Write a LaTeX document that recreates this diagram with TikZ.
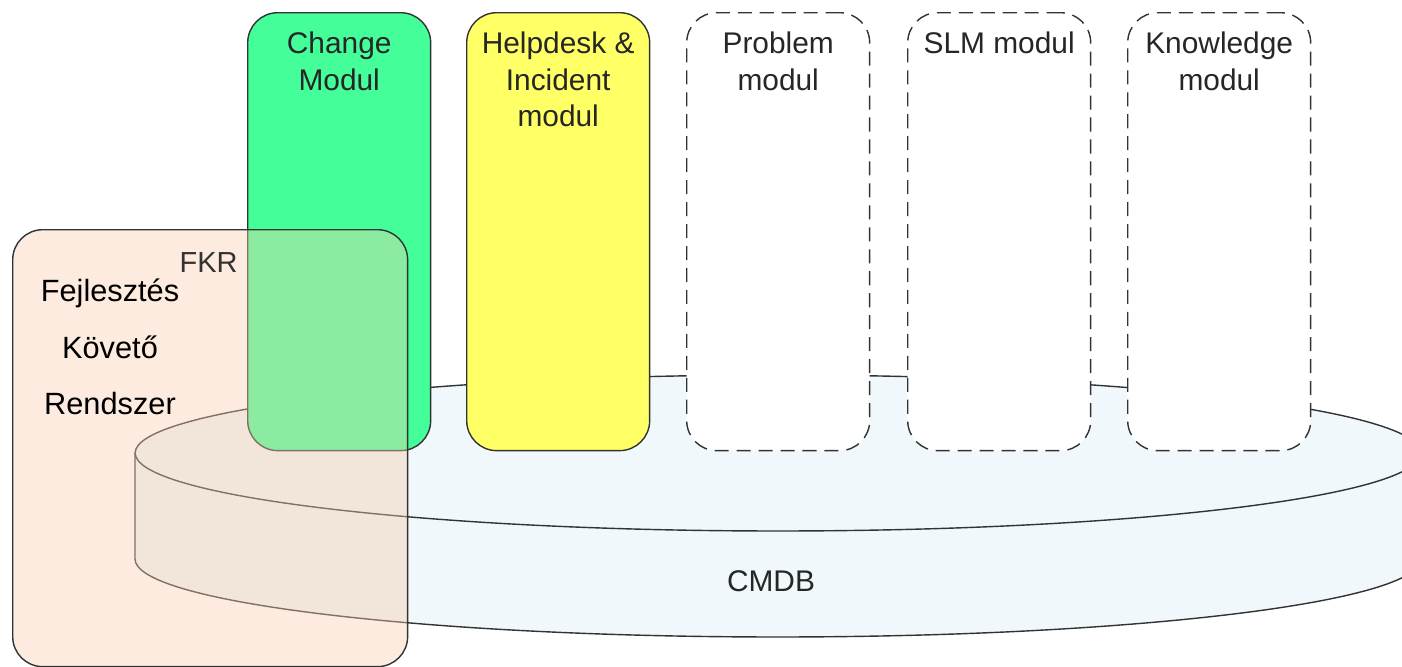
\documentclass[tikz,border=0pt]{standalone}
\usepackage{fontspec}
\setmainfont{Liberation Sans}
\usepackage{xcolor}
\usetikzlibrary{positioning}
\definecolor{changegreen}{HTML}{44FF99}
\definecolor{helpyellow}{HTML}{FFFF66}
\definecolor{cmdbblue}{HTML}{F0F8FB}
\definecolor{fkrpeach}{RGB}{247,205,172}
\definecolor{edge}{HTML}{333333}

\begin{document}
\begin{tikzpicture}[x = 0.02cm, y = -0.02cm,
modul/.style={draw = edge, line width = 0.8pt, rounded corners = 0.6cm, anchor = north west, inner sep = 0pt, minimum width = 3.66cm, minimum height = 8.76cm},
ghost/.style={modul, fill = white, dash pattern = on 8pt off 4.5pt},
txt/.style={align = center, inner sep = 0pt, text = black!85, font = \fontsize{17}{20.5}\selectfont},
lbl/.style={txt, anchor = north, yshift = -0.4cm}]
\useasboundingbox (0,0) rectangle (1402,666);
% CMDB cylinder
\filldraw[fill = cmdbblue, draw = edge, line width = 0.8pt] (135,453) -- (135,559) arc[start angle = 180, end angle = 360, x radius = 12.86cm, y radius = 1.56cm] -- (1421,453) -- cycle;
\filldraw[fill = cmdbblue, draw = edge, line width = 0.8pt] (778,453) ellipse [x radius = 12.86cm, y radius = 1.56cm];
\path (771,581) node[txt] (cmdb) {CMDB};
% modules
\node[modul, fill = changegreen, label = {[lbl]north:{Change\\Modul}}] (change) at (247,12) {};
\node[modul, fill = helpyellow, label = {[lbl]north:{Helpdesk \&\\Incident\\modul}}] (helpdesk) at (466,12) {};
\foreach \nm/\x/\txt in {problem/686/{Problem\\modul}, slm/907/{SLM modul}, knowledge/1127/{Knowledge\\modul}}{\node[ghost, label = {[lbl]north:\txt}] (\nm) at (\x,12) {};}
% FKR
\node[draw = edge, line width = 0.8pt, fill = fkrpeach, fill opacity = 0.4, rounded corners = 0.6cm, anchor = north west, inner sep = 0pt, minimum width = 7.9cm, minimum height = 8.74cm] (fkr) at (12,229) {};
\path (238,272) node[anchor = base east, inner sep = 0pt, text = black!80, font = \fontsize{16.5}{20}\selectfont] (fkrlbl) {FKR};
\path (110,279) node[anchor = north, align = center, inner sep = 0pt, font = \fontsize{17.5}{32}\selectfont] (fkrname) {Fejlesztés\\Követő\\Rendszer};
\end{tikzpicture}
\end{document}
